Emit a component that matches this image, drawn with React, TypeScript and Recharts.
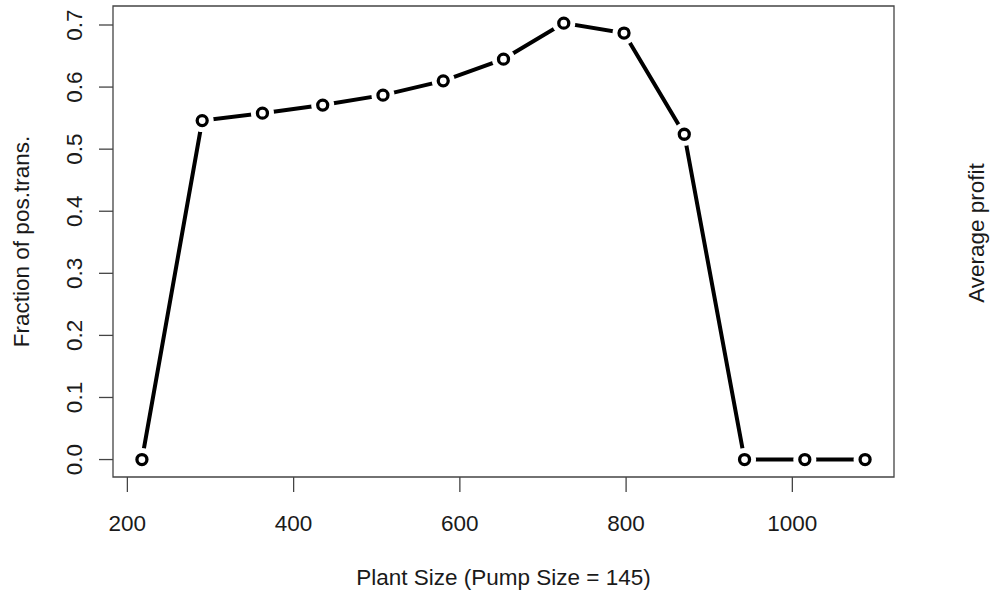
import { LineChart, Line, XAxis, YAxis, ReferenceArea } from 'recharts'

// plant sizes are multiples of the pump size (145)
const plantSizes = [217.5, 290, 362.5, 435, 507.5, 580, 652.5, 725, 797.5, 870, 942.5, 1015, 1087.5]
const fractionPosTrans = [0, 0.546, 0.558, 0.571, 0.587, 0.61, 0.645, 0.703, 0.687, 0.524, 0, 0, 0]

const xTicks = [200, 400, 600, 800, 1000]
const yTicks = [0, 0.1, 0.2, 0.3, 0.4, 0.5, 0.6, 0.7]

const X_DOMAIN: [number, number] = [182.7, 1122.3]
const Y_DOMAIN: [number, number] = [-0.0281, 0.7306]

const FONT = '"Liberation Sans", Arial, Helvetica, sans-serif'
const FS = 22.5
const TEXT = '#1a1a1a'
const FRAME = '#444'

const data = plantSizes.map((size, i) => ({ size, frac: fractionPosTrans[i] }))

function XTick({ x, y, payload }: any) {
  return (
    <text x={x} y={y} dy={39} textAnchor="middle" fontSize={FS} fontFamily={FONT} fill={TEXT}>
      {payload.value}
    </text>
  )
}

function YTick({ x, y, payload }: any) {
  const bx = x - 17.3
  return (
    <text
      x={bx}
      y={y}
      textAnchor="middle"
      fontSize={FS}
      fontFamily={FONT}
      fill={TEXT}
      transform={`rotate(-90, ${bx}, ${y})`}
    >
      {Number(payload.value).toFixed(1)}
    </text>
  )
}

// R style type="b": open circle with a gap in the line around it
function Marker({ cx, cy, index }: any) {
  if (cx == null || cy == null) return <g key={index} />
  return (
    <g key={index}>
      <circle cx={cx} cy={cy} r={11.5} fill="#fff" />
      <circle cx={cx} cy={cy} r={5} fill="#fff" stroke="#000" strokeWidth={3.3} />
    </g>
  )
}

export default function App() {
  return (
    <div style={{ position: 'absolute', left: 0, top: 0, width: 990, height: 598, background: '#fff' }}>
      <LineChart width={990} height={598} data={data} margin={{ top: 6, right: 96, bottom: 0, left: 0 }}>
        <XAxis
          dataKey="size"
          type="number"
          domain={X_DOMAIN}
          ticks={xTicks}
          allowDataOverflow
          height={121}
          tickSize={15}
          tickMargin={0}
          axisLine={false}
          tickLine={{ stroke: FRAME, strokeWidth: 1.3 }}
          tick={<XTick />}
          label={(props: any) => {
            const vb = props.viewBox
            return (
              <text
                x={vb.x + vb.width / 2}
                y={vb.y + 107.5}
                textAnchor="middle"
                fontSize={FS}
                fontFamily={FONT}
                fill={TEXT}
              >
                Plant Size (Pump Size = 145)
              </text>
            )
          }}
        />
        <YAxis
          type="number"
          domain={Y_DOMAIN}
          ticks={yTicks}
          allowDataOverflow
          width={113}
          tickSize={14}
          tickMargin={0}
          axisLine={false}
          tickLine={{ stroke: FRAME, strokeWidth: 1.3 }}
          tick={<YTick />}
          label={(props: any) => {
            const vb = props.viewBox
            const cy = vb.y + vb.height / 2
            return (
              <text
                x={28.5}
                y={cy}
                textAnchor="middle"
                fontSize={FS}
                fontFamily={FONT}
                fill={TEXT}
                transform={`rotate(-90, 28.5, ${cy})`}
              >
                Fraction of pos.trans.
              </text>
            )
          }}
        />
        <ReferenceArea
          x1={X_DOMAIN[0]}
          x2={X_DOMAIN[1]}
          y1={Y_DOMAIN[0]}
          y2={Y_DOMAIN[1]}
          fill="none"
          stroke={FRAME}
          strokeWidth={1.3}
          ifOverflow="visible"
        />
        <Line
          dataKey="frac"
          stroke="#000"
          strokeWidth={4}
          strokeLinecap="round"
          dot={<Marker />}
          activeDot={false}
          isAnimationActive={false}
        />
      </LineChart>
      {/* neighbouring panel's axis title at the image edge */}
      <svg width={990} height={598} style={{ position: 'absolute', left: 0, top: 0, pointerEvents: 'none' }}>
        <text
          x={984}
          y={233}
          textAnchor="middle"
          fontSize={FS}
          fontFamily={FONT}
          fill={TEXT}
          transform="rotate(-90, 984, 233)"
        >
          Average profit
        </text>
      </svg>
    </div>
  )
}
